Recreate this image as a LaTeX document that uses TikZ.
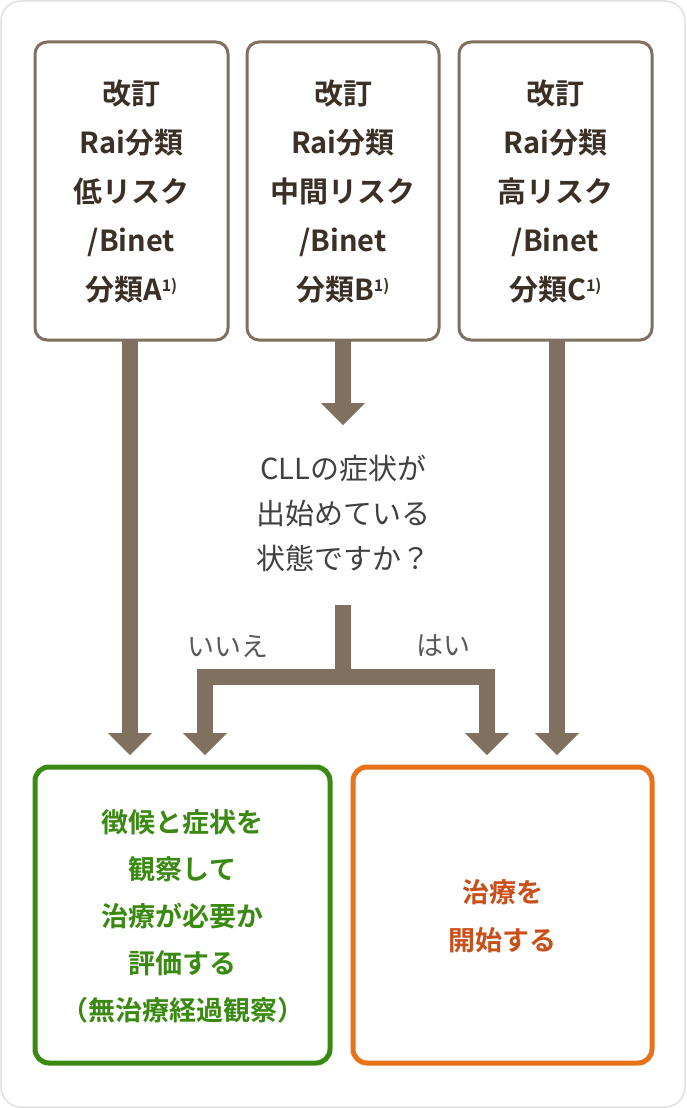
\documentclass[tikz,border=0pt]{standalone}
\usepackage{fontspec}
\setmainfont{Noto Sans CJK JP}
\newfontfamily\jpb{Noto Sans CJK JP Bold}
\usetikzlibrary{arrows.meta}
\definecolor{brn}{HTML}{7F7060}
\definecolor{grn}{HTML}{3A8A12}
\definecolor{org}{HTML}{E8721A}
\definecolor{orgt}{HTML}{C8501A}
\definecolor{dk}{HTML}{3A3025}
\begin{document}
\begin{tikzpicture}[x=1pt,y=-1pt,
  top/.style={draw=brn,line width=3pt,rounded corners=12pt,fill=white},
  tt/.style={font=\jpb\fontsize{29}{49}\selectfont,text=dk,align=center},
  bar/.style={brn,line width=16pt},
  head/.style={fill=brn,draw=none},
  q/.style={font=\fontsize{29}{45}\selectfont,text=black!75,align=center}]
\useasboundingbox (0,0) rectangle (686,1108);
\draw[draw=black!12,line width=1.5pt,rounded corners=20pt,fill=white] (1,1) rectangle (685,1107);
\draw[top] (35,42) rectangle (228,340);
\draw[top] (247,42) rectangle (439,340);
\draw[top] (459,42) rectangle (652,340);
\node[tt] (t1) at (131.5,192) {改訂\\Rai分類\\低リスク\\/Binet\\分類A\textsuperscript{\fontsize{16}{16}\selectfont 1)}};
\node[tt] (t2) at (343,192) {改訂\\Rai分類\\中間リスク\\/Binet\\分類B\textsuperscript{\fontsize{16}{16}\selectfont 1)}};
\node[tt] (t3) at (555.5,192) {改訂\\Rai分類\\高リスク\\/Binet\\分類C\textsuperscript{\fontsize{16}{16}\selectfont 1)}};
% bars
\draw[bar] (130,341) -- (130,735);
\draw[bar] (557,341) -- (557,735);
\draw[bar] (343,341) -- (343,405);
\draw[bar,line join=miter] (205,735) -- (205,677) -- (487,677) -- (487,735);
\draw[bar] (343,605) -- (343,677);
\foreach \x/\t in {130/755,557/755,205/755,487/755,343/425}
  \fill[head] (\x-22,\t-22) -- (\x+22,\t-22) -- (\x,\t) -- cycle;
\node[q] (q) at (343,513) {CLLの症状が\\出始めている\\状態ですか？};
\node[font=\fontsize{27}{27}\selectfont,text=black!65] (no) at (228,646) {いいえ};
\node[font=\fontsize{27}{27}\selectfont,text=black!65] (yes) at (443,646) {はい};
\draw[draw=grn,line width=5pt,rounded corners=14pt] (35,767) rectangle (330,1063);
\draw[draw=org,line width=5pt,rounded corners=14pt] (353,767) rectangle (652,1063);
\node[font=\jpb\fontsize{27}{47}\selectfont,text=grn,align=center] (b1) at (182.5,916) {徴候と症状を\\観察して\\治療が必要か\\評価する\\（無治療経過観察）};
\node[font=\jpb\fontsize{27}{48}\selectfont,text=orgt,align=center] (b2) at (502.5,916) {治療を\\開始する};
\end{tikzpicture}
\end{document}
